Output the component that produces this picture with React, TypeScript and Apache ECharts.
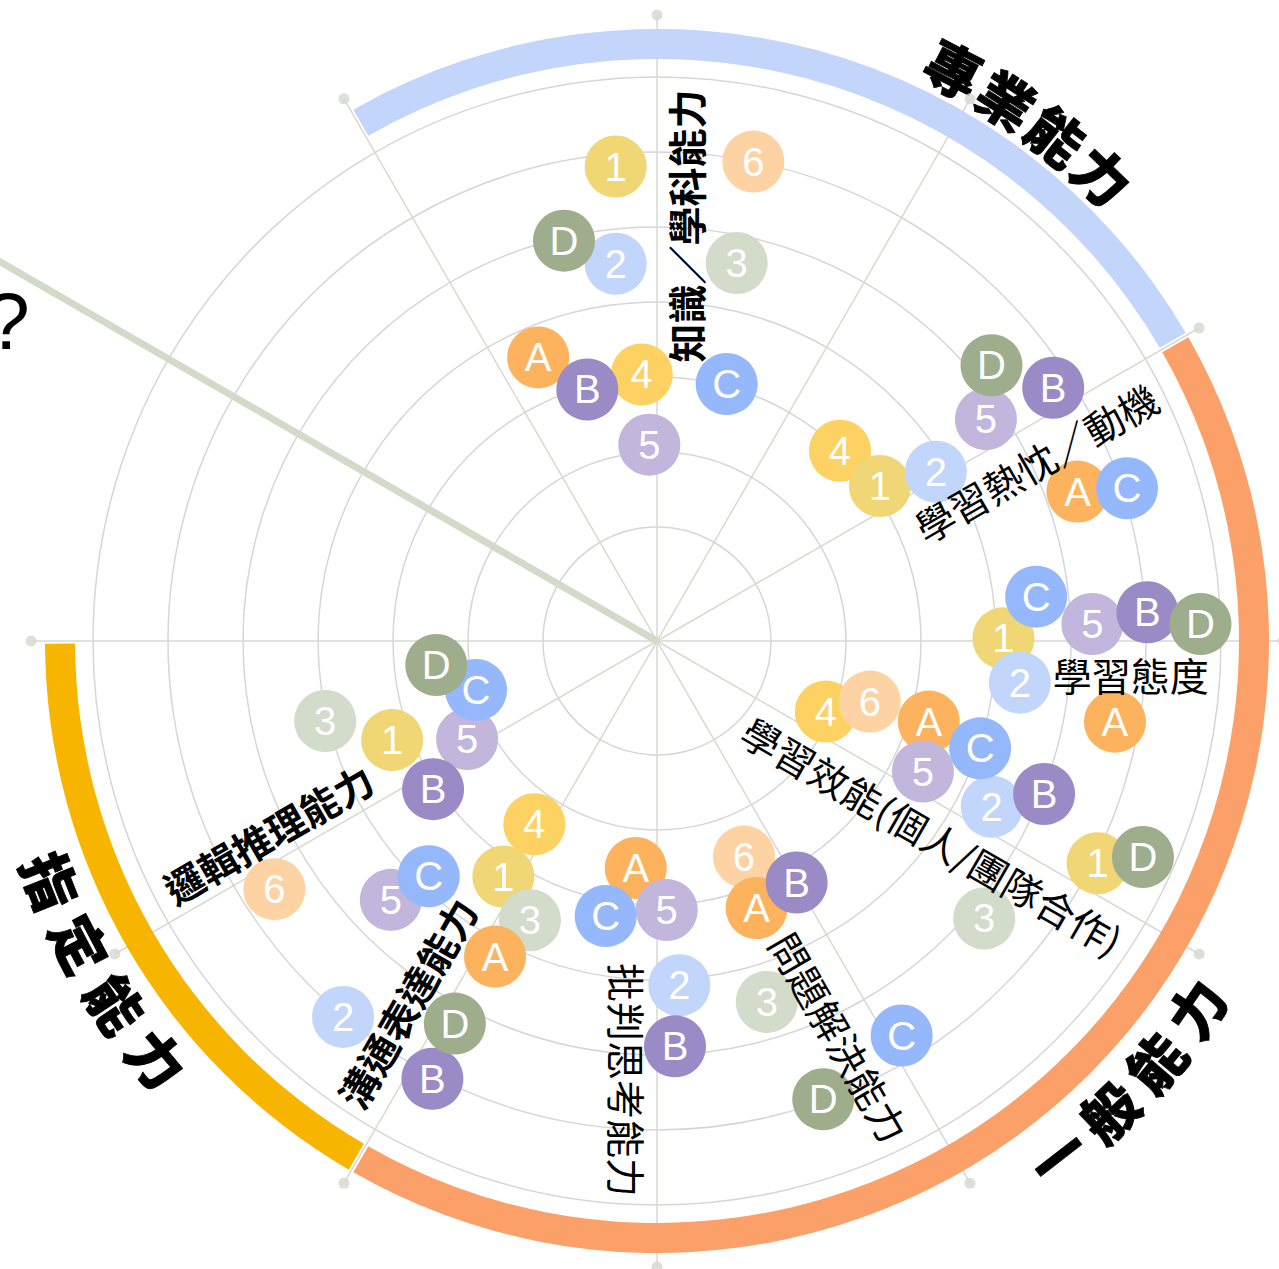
import React, { useEffect, useRef } from "react";
import * as echarts from "echarts";

// ---------------- data ----------------
const groupNames = ["1", "2", "3", "4", "5", "6", "A", "B", "C", "D"];

// each point: [score on the 0–7 rings, angle in degrees counter-clockwise from 3 o'clock]
const points1 = [[5.83, 94.98], [3.1, 34.8], [4.1, 0.45], [6.06, 333.23], [3.23, 236.89], [3.25, 200.5]];
const points2 = [[4.54, 96.25], [3.83, 31.27], [4.35, 353.45], [4.46, 333.66], [4.08, 273.71], [6.01, 230.13]];
const points3 = [[4.63, 78.1], [5.2, 319.7], [4.51, 286.92], [3.57, 245.53], [4.03, 193.55]];
const points4 = [[3.04, 93.28], [3.0, 46.12], [1.92, 337.3], [2.42, 236.2]];
const points5 = [[2.1, 92.24], [4.77, 34.0], [5.29, 2.24], [3.43, 333.86], [3.07, 272.07], [4.43, 224.2], [2.33, 207.32]];
const points6 = [[6.0, 78.64], [2.43, 344.1], [2.58, 291.97], [5.56, 212.97]];
const pointsA = [[3.58, 112.73], [5.43, 19.56], [5.68, 350.01], [3.26, 343.48], [3.28, 290.45], [2.52, 264.65], [4.21, 242.83]];
const pointsB = [[2.96, 105.48], [5.75, 32.59], [6.03, 3.35], [5.03, 338.43], [3.2, 300.03], [4.89, 272.54], [6.04, 242.84], [3.06, 213.49]];
const pointsC = [[3.03, 74.83], [6.07, 18.01], [4.57, 6.67], [4.02, 341.62], [5.67, 301.8], [3.21, 259.43], [3.85, 225.86], [1.98, 195.15]];
const pointsD = [[4.96, 103.08], [5.26, 39.5], [6.73, 1.79], [6.57, 336.04], [5.98, 289.94], [5.25, 242.15], [2.44, 186.2]];

const categoryNames = [
  "知識／學科能力",
  "學習熱忱／動機",
  "學習態度",
  "學習效能(個人/團隊合作)",
  "問題解決能力",
  "批判思考能力",
  "溝通表達能力",
  "邏輯推理能力",
];

const domainNames = ["專業能力", "一般能力", "指定能力"];
const domainFrom = [120, 30, -120];
const domainTo = [30, -120, -180];

const spokeAngles = [0, 30, 60, 90, 120, 150, 180, 210, 240, 270, 300, 330];
const pointerAngle = 150;
const ringMin = 0;
const ringMax = 7;
const ringStep = 1;

// ---------------- layout & style ----------------
const CENTER = [657, 641];
const SPOKE_R = 626;
const RING_INNER = 39;
const RING_OUTER = 564;
const BAND_R0 = 582;
const BAND_R1 = 612;
const BAND_GAP = 0.25;
const POINTER_LEN = 820;
const deg = Math.PI / 180;
const CJK = "'Noto Sans CJK TC', 'Noto Sans CJK SC', sans-serif";
const LATIN = "'Liberation Sans', Arial, sans-serif";

const groupPoints: Record<string, number[][]> = {
  "1": points1, "2": points2, "3": points3, "4": points4, "5": points5, "6": points6,
  A: pointsA, B: pointsB, C: pointsC, D: pointsD,
};
const groupColors: Record<string, string> = {
  "1": "#f0d674", "2": "#c2d6fc", "3": "#d3dbcb", "4": "#fdd263", "5": "#c2b6dc", "6": "#fed3a4",
  A: "#fdb35d", B: "#9a8ac6", C: "#95b8fc", D: "#9eae8d",
};
const drawOrder = ["4", "6", "1", "3", "A", "5", "2", "C", "B", "D"];
const domainColors = ["#c3d5fb", "#fba068", "#f8b500"];

const categoryLabelLayout = [
  { r: 416, a: 86.1, rot: 90, bold: true },
  { r: 419, a: 25.3, rot: 30, bold: false },
  { r: 475, a: -4, rot: 0, bold: false },
  { r: 337, a: -35.2, rot: -30, bold: false },
  { r: 436, a: -65.2, rot: -60, bold: false },
  { r: 440, a: -93.8, rot: -90, bold: false },
  { r: 440, a: -124.7, rot: 60, bold: true },
  { r: 434, a: -153.7, rot: 30, bold: true },
];
const domainLabelLayout = [
  { r: 646, a0: 62.6, step: -5.45, outward: true },
  { r: 651, a0: -52.1, step: 5.95, outward: false },
  { r: 650, a0: -158.4, step: 6.1, outward: false },
];

function makeAt(params: any) {
  const cs = params.coordSys;
  const cx = cs.cx;
  const cy = cs.cy;
  const k = cs.r / SPOKE_R;
  const at = (r: number, a: number) => [cx + r * k * Math.cos(a * deg), cy - r * k * Math.sin(a * deg)];
  return { cx, cy, k, at };
}

function decorRender(params: any) {
  const { cx, cy, k, at } = makeAt(params);
  const children: any[] = [];
  domainNames.forEach((_, i) => {
    const from = domainFrom[i] - BAND_GAP;
    const to = domainTo[i] + BAND_GAP;
    children.push({
      type: "sector",
      shape: { cx, cy, r0: BAND_R0 * k, r: BAND_R1 * k, startAngle: -from * deg, endAngle: -to * deg, clockwise: true },
      style: { fill: domainColors[i] },
    });
  });
  const [x2, y2] = at(POINTER_LEN, pointerAngle);
  children.push({ type: "line", shape: { x1: cx, y1: cy, x2, y2 }, style: { stroke: "#d2dac8", lineWidth: 7 } });
  const [qx, qy] = at(724, 153.8);
  children.push({
    type: "text", x: qx, y: qy,
    style: { text: "?", fontSize: 80, fontFamily: LATIN, fill: "#000", align: "center", verticalAlign: "middle" },
  });
  domainNames.forEach((name, i) => {
    const L = domainLabelLayout[i];
    Array.from(name).forEach((ch, j) => {
      const a = L.a0 + j * L.step;
      const [x, y] = at(L.r, a);
      const rot = (L.outward ? a - 90 : a + 90) * deg;
      children.push({
        type: "text", x, y, rotation: rot,
        style: {
          text: ch, fontSize: 56, fontWeight: 900, fontFamily: CJK, fill: "#000",
          stroke: "#000", lineWidth: 0.8, align: "center", verticalAlign: "middle",
        },
      });
    });
  });
  return { type: "group", children };
}

function categoryRender(params: any) {
  const { at } = makeAt(params);
  const children = categoryNames.map((name, i) => {
    const L = categoryLabelLayout[i];
    const [x, y] = at(L.r, L.a);
    return {
      type: "text", x, y, rotation: L.rot * deg,
      style: {
        text: name, fontSize: 39, fontWeight: L.bold ? "bold" : "normal", fontFamily: CJK,
        fill: "#000", align: "center", verticalAlign: "middle",
      },
    };
  });
  return { type: "group", children };
}

function buildOption(): any {
  const ringCount = Math.round((ringMax - ringMin) / ringStep) + 1;
  const ringColors = ["rgba(0,0,0,0)"].concat(Array(ringCount - 1).fill("#d6d6d6"));
  return {
    animation: false,
    backgroundColor: "#ffffff",
    polar: [
      { center: CENTER, radius: SPOKE_R },
      { center: CENTER, radius: [RING_INNER, RING_OUTER] },
    ],
    angleAxis: [
      {
        polarIndex: 0, type: "value", min: 0, max: 360, interval: 30, startAngle: 0, clockwise: false,
        axisLine: { show: false }, axisTick: { show: false }, axisLabel: { show: false },
        splitLine: { show: true, lineStyle: { color: "#d8d9d1", width: 1.5 } },
      },
      { polarIndex: 1, type: "value", min: 0, max: 360, startAngle: 0, clockwise: false, show: false },
    ],
    radiusAxis: [
      { polarIndex: 0, type: "value", min: 0, max: SPOKE_R, show: false },
      {
        polarIndex: 1, type: "value", min: ringMin, max: ringMax, interval: ringStep,
        axisLine: { show: false }, axisTick: { show: false }, axisLabel: { show: false },
        splitLine: { show: true, showMinLine: false, lineStyle: { color: ringColors, width: 1.5 } },
      },
    ],
    series: [
      {
        type: "custom", name: "decor", coordinateSystem: "polar", polarIndex: 0, z: 1, silent: true,
        data: [[0, 0]], renderItem: decorRender, clip: false,
      },
      {
        type: "scatter", name: "spokeEnds", coordinateSystem: "polar", polarIndex: 0, z: 2, silent: true, clip: false,
        data: spokeAngles.filter((a) => a !== pointerAngle).map((a) => [SPOKE_R, a]),
        symbol: "circle", symbolSize: 11, itemStyle: { color: "#d5d8cf" },
      },
      ...drawOrder.map((name) => ({
        type: "scatter", name, coordinateSystem: "polar", polarIndex: 1, z: 3, silent: true, clip: false,
        data: groupPoints[name], symbol: "circle", symbolSize: 62,
        itemStyle: { color: groupColors[name], opacity: 1 },
        label: { show: true, position: "inside", formatter: name, color: "#ffffff", fontSize: 40, fontFamily: LATIN },
        emphasis: { disabled: true },
      })),
      {
        type: "custom", name: "categoryLabels", coordinateSystem: "polar", polarIndex: 0, z: 10, silent: true,
        data: [[0, 0]], renderItem: categoryRender, clip: false,
      },
    ],
  };
}

export default function App() {
  const ref = useRef<HTMLDivElement>(null);
  useEffect(() => {
    if (!ref.current) return;
    const chart = echarts.init(ref.current, null, { renderer: "svg" });
    chart.setOption(buildOption());
    return () => chart.dispose();
  }, []);
  return (
    <div
      ref={ref}
      style={{ position: "absolute", left: 0, top: 0, width: 1279, height: 1269, background: "#fff" }}
    />
  );
}
